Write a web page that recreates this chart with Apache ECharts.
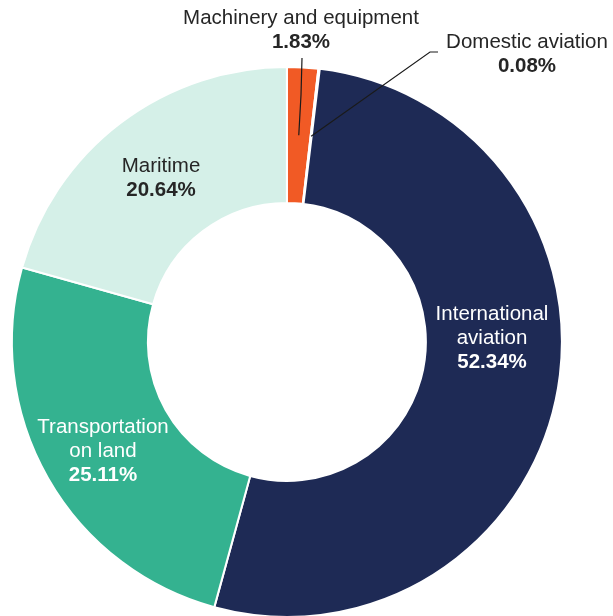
<!DOCTYPE html>
<html>
<head>
<meta charset="utf-8">
<script src="https://cdn.jsdelivr.net/npm/echarts@6/dist/echarts.min.js"></script>
<style>
  html, body { margin: 0; padding: 0; background: #fff; }
  #chart { width: 613px; height: 616px; }
</style>
</head>
<body>
<div id="chart"></div>
<script>
// data, clockwise from 12 o'clock
const categories = ['Machinery and equipment', 'Domestic aviation', 'International\naviation', 'Transportation\non land', 'Maritime']
const shares = [1.83, 0.08, 52.34, 25.11, 20.64]

const colors = ['#f15a25', '#ffffff', '#1e2a55', '#34b290', '#d5f0e8']
const textColors = ['#262626', '#262626', '#ffffff', '#ffffff', '#262626']
// label anchors (px) and leader line bends for the two small slices
const labelPos = [[301, 30], [527, 54], [492, 338], [103, 451], [161, 178]]
const linePath = [[[301, 95], [302, 58]], [[430, 52], [438, 52]], null, null, null]

const center = ['46.8%', '55.5%']
const radius = [139, 275]

const total = shares.reduce((a, b) => a + b, 0)
const chart = echarts.init(document.getElementById('chart'))

const baseLabel = {
  fontFamily: 'Liberation Sans, Arial, sans-serif',
  fontSize: 20.5,
  lineHeight: 24,
  formatter: p => '{n|' + p.name + '}\n{v|' + p.value.toFixed(2) + '%}',
  rich: {
    n: { fontSize: 20.5, lineHeight: 24 },
    v: { fontSize: 20.5, lineHeight: 24, fontWeight: 'bold' }
  }
}

function placeLabel(params) {
  const i = params.dataIndex
  const out = {
    x: labelPos[i][0],
    y: labelPos[i][1],
    align: 'center',
    verticalAlign: 'middle'
  }
  if (linePath[i]) {
    // leader line starts in the middle of the ring, at the slice's mid angle
    const cx = chart.getWidth() * parseFloat(center[0]) / 100
    const cy = chart.getHeight() * parseFloat(center[1]) / 100
    const before = shares.slice(0, i).reduce((a, b) => a + b, 0)
    const ang = (before + shares[i] / 2) / total * 2 * Math.PI
    const rm = (radius[0] + radius[1]) / 2
    out.labelLinePoints = [[cx + rm * Math.sin(ang), cy - rm * Math.cos(ang)]].concat(linePath[i])
  }
  return out
}

chart.setOption({
  animation: false,
  series: [
    {
      // the ring with the inside labels
      type: 'pie',
      z: 2,
      center: center,
      radius: radius,
      startAngle: 90,
      clockwise: true,
      avoidLabelOverlap: false,
      itemStyle: {
        borderColor: '#ffffff',
        borderWidth: 2
      },
      label: baseLabel,
      labelLine: { show: false },
      labelLayout: placeLabel,
      data: categories.map((name, i) => ({
        name: name,
        value: shares[i],
        itemStyle: { color: colors[i] },
        label: {
          show: !linePath[i],
          position: 'inside',
          color: textColors[i]
        }
      }))
    },
    {
      // transparent copy on top, carrying the outside labels and leader lines
      type: 'pie',
      z: 5,
      silent: true,
      center: center,
      radius: radius,
      startAngle: 90,
      clockwise: true,
      avoidLabelOverlap: false,
      itemStyle: {
        color: 'rgba(0,0,0,0)',
        borderWidth: 0
      },
      label: baseLabel,
      labelLine: {
        lineStyle: { color: '#1a1a1a', width: 1.2 }
      },
      labelLayout: placeLabel,
      data: categories.map((name, i) => ({
        name: name,
        value: shares[i],
        label: {
          show: !!linePath[i],
          position: 'outside',
          color: textColors[i]
        },
        labelLine: { show: !!linePath[i] }
      }))
    }
  ]
})
</script>
</body>
</html>
